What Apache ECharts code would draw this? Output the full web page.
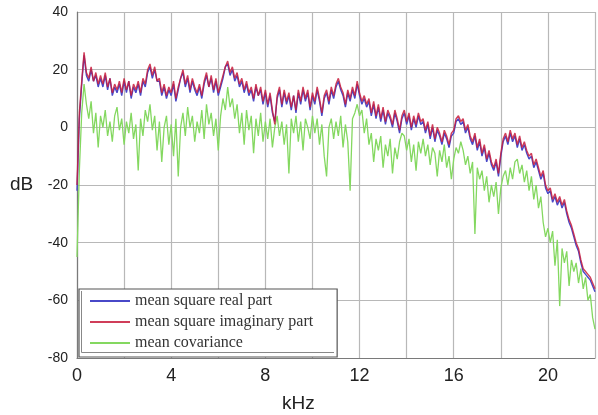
<!DOCTYPE html>
<html>
<head>
<meta charset="utf-8">
<script src="https://cdn.jsdelivr.net/npm/echarts@6/dist/echarts.min.js"></script>
<style>
html,body{margin:0;padding:0;background:#fff;}
#chart{width:598px;height:415px;}
</style>
</head>
<body>
<div id="chart"></div>
<script>
// Frequency grid: one sample every 0.1 kHz, from 0 to 22 kHz
const freqStartKHz = 0;
const freqStepKHz = 0.1;

const seriesNames = ['mean square real part', 'mean square imaginary part', 'mean covariance'];

const xTickValues = [0, 4, 8, 12, 16, 20];
const yTickValues = [-80, -60, -40, -20, 0, 20, 40];

// mean square real part (dB)
const realPart = [
  -22, 3, 15, 25, 18, 16, 20, 16, 18, 14,
  17, 14, 18, 13, 17, 11, 14, 12, 15, 11,
  16, 12, 16, 10, 14, 12, 15, 11, 16, 14,
  19, 21, 17, 20, 16, 16, 11, 14, 10, 13,
  11, 15, 9, 13, 17, 19, 14, 17, 12, 16,
  13, 11, 14, 10, 15, 18, 14, 17, 12, 16,
  11, 14, 17, 21, 22, 18, 20, 16, 18, 14,
  16, 12, 15, 11, 13, 9, 14, 11, 13, 8,
  12, 7, 11, 5, 2, 10, 13, 7, 12, 8,
  11, 6, 11, 5, 12, 8, 13, 9, 12, 6,
  11, 8, 13, 9, 4, 10, 12, 8, 13, 10,
  14, 16, 13, 11, 7, 12, 9, 13, 10, 15,
  11, 8, 10, 7, 9, 4, 8, 3, 7, 2,
  6, 1, 5, 3, 0, 5, 2, -2, 3, 5,
  1, 4, -1, 3, 0, 4, 1, 2, -2, 1,
  -4, 0, -5, -1, -3, -6, -2, -4, -7, -3,
  -2, 2, 3, 1, 2, -2, 0, -4, -6, -3,
  -8, -5, -10, -7, -12, -9, -13, -15, -12, -17,
  -10, -5, -3, -6, -2, -5, -3, -7, -4, -8,
  -6, -9, -11, -10, -14, -12, -15, -18, -16, -21,
  -23, -22, -26, -24, -27, -25, -28, -26, -30, -33,
  -35, -38, -41, -43, -47, -50, -51, -52, -53, -55,
  -57
];

// mean square imaginary part (dB)
const imagPart = [
  -20, 5, 16, 26, 19, 17, 21, 16, 19, 15,
  18, 15, 19, 14, 17, 12, 15, 13, 16, 12,
  17, 13, 16, 11, 15, 13, 16, 12, 17, 15,
  20, 22, 18, 21, 16, 17, 12, 15, 11, 14,
  12, 16, 10, 14, 17, 20, 15, 18, 13, 17,
  14, 12, 15, 11, 16, 19, 14, 18, 13, 17,
  12, 15, 18, 21, 23, 19, 21, 17, 19, 15,
  17, 13, 16, 12, 14, 10, 15, 11, 14, 9,
  13, 8, 12, 6, 1, 11, 14, 8, 13, 9,
  12, 7, 11, 6, 13, 9, 14, 10, 13, 7,
  12, 9, 14, 10, 5, 11, 13, 9, 14, 11,
  15, 17, 14, 12, 8, 13, 10, 14, 11, 16,
  12, 9, 11, 8, 10, 5, 9, 4, 8, 3,
  7, 2, 6, 4, 1, 6, 3, -1, 4, 6,
  2, 5, 0, 4, 1, 5, 2, 3, -1, 2,
  -3, 1, -4, 0, -2, -5, -1, -3, -6, -2,
  -1, 3, 4, 2, 3, -1, 1, -3, -5, -2,
  -7, -4, -9, -6, -11, -8, -12, -14, -11, -16,
  -9, -4, -2, -5, -1, -4, -2, -6, -3, -7,
  -5, -8, -10, -9, -13, -11, -14, -17, -15, -20,
  -22, -21, -25, -23, -26, -24, -27, -25, -29, -32,
  -34, -37, -40, -42, -46, -49, -50, -51, -52, -54,
  -56
];

// mean covariance (dB)
const covariance = [
  -45, -15, 5, 15, 8, 3, 9, -2, 5, -7,
  4, 0, 6, -3, 2, -5, 4, 7, -1, 3,
  -6, 2, -2, 5, -4, 1, -15, 3, -3, 6,
  2, 8, -1, 4, -8, 2, -12, 0, 4, -6,
  1, -10, 3, -17, 0, 5, -3, 7, 0, 4,
  -5, 2, -2, 6, -4, 8, 1, 5, -3, 3,
  -8, 4, 10, 6, 14, 7, 10, 3, 8, -2,
  5, -6, 6, -1, 4, -9, 3, -3, 5, -5,
  2, -4, 3, -7, 0, 4, -3, 2, -6, 1,
  -16, 3, -2, 4, -5, 2, -8, 3, 0, -4,
  4, -2, 3, -6, 1, -10, -17, 0, 3, -4,
  2, -3, 4, -7, 1, -5, -22, 3, 5, 8,
  4, 6, -2, 3, -6, -2, -12, -4, -8, -3,
  -14, -6, -10, -4, -16, -7, -11, -5, -2, -3,
  -8, -4, -12, -6, -15, -5, -9, -4, -10, -6,
  -13, -7, -9, -17, -8, -12, -6, -14, -10, -18,
  -11, -7, -9, -5, -8, -13, -10, -16, -12, -37,
  -14, -18, -15, -22, -17, -26, -20, -24, -19, -30,
  -21, -17, -15, -20, -14, -18, -12, -11, -16, -13,
  -19, -15, -22, -17, -25, -20, -28, -24, -33, -38,
  -35, -40, -36, -48, -39, -62, -42, -47, -43, -55,
  -46, -50, -47, -54, -49, -56, -52, -60, -58, -66,
  -70
];

function toPairs(values) {
  return values.map((v, i) => [+(freqStartKHz + i * freqStepKHz).toFixed(2), v]);
}

const chart = echarts.init(document.getElementById('chart'), null, {renderer: 'canvas'});

const sansFont = '"Liberation Sans", Arial, Helvetica, sans-serif';
const serifFont = '"Liberation Serif", "Times New Roman", serif';

const option = {
  animation: false,
  backgroundColor: '#ffffff',
  grid: {left: 77, right: 1, top: 12, bottom: 57, containLabel: false},
  xAxis: {
    type: 'value',
    min: 0, max: 22, interval: 2,
    axisLine: {show: true, onZero: false, lineStyle: {color: '#7a7a7a', width: 1.2}},
    axisTick: {show: false},
    axisLabel: {
      margin: 9, fontSize: 18, color: '#222', fontFamily: sansFont,
      formatter: v => (xTickValues.indexOf(v) >= 0 ? String(v) : '')
    },
    splitLine: {show: true, lineStyle: {color: '#b8b8b8', width: 1.2}}
  },
  yAxis: {
    type: 'value',
    min: yTickValues[0], max: yTickValues[yTickValues.length - 1], interval: 20,
    axisLine: {show: true, lineStyle: {color: '#7a7a7a', width: 1.2}},
    axisTick: {show: false},
    axisLabel: {margin: 9, fontSize: 14, color: '#222', fontFamily: sansFont},
    splitLine: {show: true, lineStyle: {color: '#b8b8b8', width: 1.2}}
  },
  legend: {
    orient: 'vertical',
    left: 79, top: 289,
    padding: [4, 24, 6, 10],
    itemWidth: 40, itemHeight: 14, itemGap: 5,
    backgroundColor: '#ffffff',
    borderColor: '#555', borderWidth: 1.2,
    itemStyle: {opacity: 0},
    textStyle: {fontFamily: serifFont, fontSize: 16, color: '#333'},
    data: seriesNames
  },
  graphic: [
    {type: 'text', left: 10, top: 175, style: {text: 'dB', font: '19px ' + sansFont, fill: '#222'}},
    {type: 'text', left: 282, top: 394, style: {text: 'kHz', font: '19px ' + sansFont, fill: '#222'}},
    {type: 'polyline', z: 100, shape: {points: [[81.5, 291], [81.5, 352.5], [334, 352.5]]},
      style: {stroke: '#888', lineWidth: 1, fill: null}}
  ],
  series: [
    {name: seriesNames[0], type: 'line', data: toPairs(realPart), symbol: 'none', z: 3,
      lineStyle: {color: '#4848c8', width: 1.4}, itemStyle: {color: '#4848c8'}},
    {name: seriesNames[1], type: 'line', data: toPairs(imagPart), symbol: 'none', z: 4,
      lineStyle: {color: '#c81c3c', width: 1.4, opacity: 0.85}, itemStyle: {color: '#c81c3c'}},
    {name: seriesNames[2], type: 'line', data: toPairs(covariance), symbol: 'none', z: 2,
      lineStyle: {color: '#84d860', width: 1.3}, itemStyle: {color: '#84d860'}}
  ]
};

chart.setOption(option);
</script>
</body>
</html>
